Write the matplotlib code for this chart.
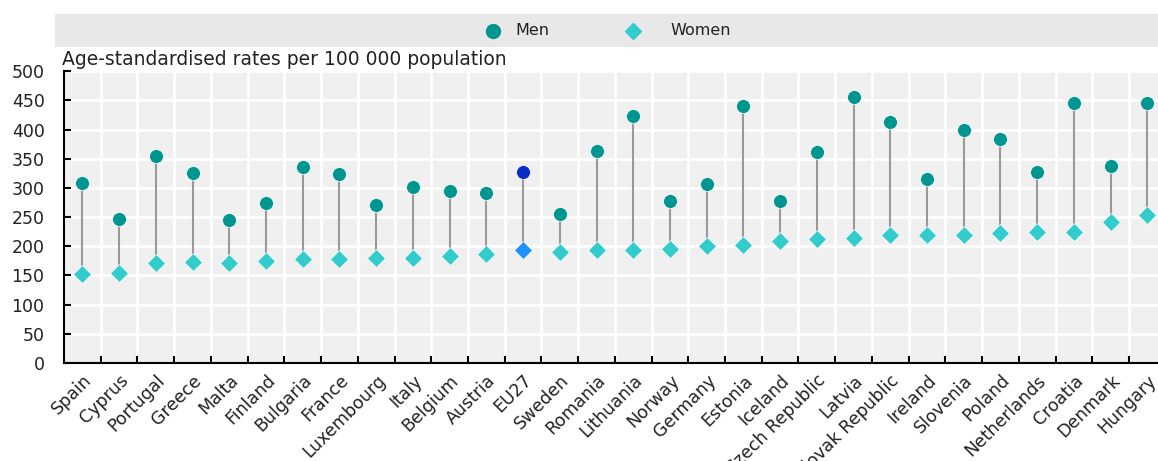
import matplotlib.pyplot as plt
from matplotlib.patches import Rectangle
from matplotlib.lines import Line2D

plt.rcParams['font.family'] = ['DejaVu Sans']

countries = ["Spain", "Cyprus", "Portugal", "Greece", "Malta", "Finland", "Bulgaria",
             "France", "Luxembourg", "Italy", "Belgium", "Austria", "EU27", "Sweden",
             "Romania", "Lithuania", "Norway", "Germany", "Estonia", "Iceland",
             "Czech Republic", "Latvia", "Slovak Republic", "Ireland", "Slovenia",
             "Poland", "Netherlands", "Croatia", "Denmark", "Hungary"]
men = [309, 247, 354, 326, 245, 274, 335, 323, 270, 302, 295, 291, 328, 256,
       364, 424, 277, 307, 440, 277, 362, 456, 413, 316, 400, 384, 327, 446, 338, 446]
women = [152, 155, 171, 173, 172, 175, 179, 179, 180, 180, 184, 187, 193, 191,
         193, 193, 195, 200, 202, 209, 213, 214, 220, 220, 220, 222, 225, 225, 242, 253]

MEN_C = "#00968f"
WOMEN_C = "#33cccc"
EU_MEN_C = "#0a2fc4"
EU_WOMEN_C = "#1e90ff"
TXT = "#222222"

fig = plt.figure(figsize=(11.58, 4.61), dpi=100)
ax = fig.add_axes([0.0553, 0.2126, 0.9447, 0.633])
ax.set_facecolor("#f0f0f0")

n = len(countries)
x = list(range(n))
for i in x:
    ax.plot([i, i], [women[i], men[i]], color="#999999", lw=1.5, zorder=2)
    mc = EU_MEN_C if countries[i] == "EU27" else MEN_C
    wc = EU_WOMEN_C if countries[i] == "EU27" else WOMEN_C
    ax.plot(i, men[i], "o", color=mc, ms=10, mec="white", mew=0.5, zorder=3)
    ax.plot(i, women[i], "D", color=wc, ms=9, mec="white", mew=0.5, zorder=3)

ax.set_xlim(-0.5, n - 1 + 0.29)
ax.set_ylim(0, 500)
ax.set_yticks(range(0, 501, 50))
ax.set_xticks([i + 0.5 for i in x[:-1]])
ax.set_xticklabels([])
ax.set_xticks(x, minor=True)
ax.set_xticklabels(countries, minor=True, rotation=45, ha="right",
                   rotation_mode="anchor", fontsize=12.5, color=TXT)
ax.tick_params(axis="x", which="minor", length=0, pad=6)
ax.tick_params(axis="x", which="major", direction="in", length=5, width=1.5)
ax.tick_params(axis="y", direction="in", length=5, width=1.5, labelsize=12.5,
               labelcolor=TXT, pad=14)
ax.grid(True, which="major", color="white", lw=2)
ax.set_axisbelow(True)
for s in ["top", "right"]:
    ax.spines[s].set_visible(False)
for s in ["left", "bottom"]:
    ax.spines[s].set_linewidth(1.5)
    ax.spines[s].set_color("black")

fig.text(0.0535, 0.87, "Age-standardised rates per 100 000 population",
         fontsize=13.5, va="center", ha="left", color=TXT)

# legend band
fig.patches.append(Rectangle((0.0475, 0.898), 0.9525, 0.0716,
                             transform=fig.transFigure, facecolor="#e8e8e8",
                             edgecolor="none", zorder=0))
ly = 0.933
fig.add_artist(Line2D([493 / 1158], [ly], marker="o", ls="none", color=MEN_C, ms=10))
fig.text(515 / 1158, ly, "Men", fontsize=11.5, va="center", ha="left", color=TXT)
fig.add_artist(Line2D([633 / 1158], [ly], marker="D", ls="none", color=WOMEN_C, ms=8))
fig.text(670 / 1158, ly, "Women", fontsize=11.5, va="center", ha="left", color=TXT)

plt.savefig("out.png", dpi=100)
